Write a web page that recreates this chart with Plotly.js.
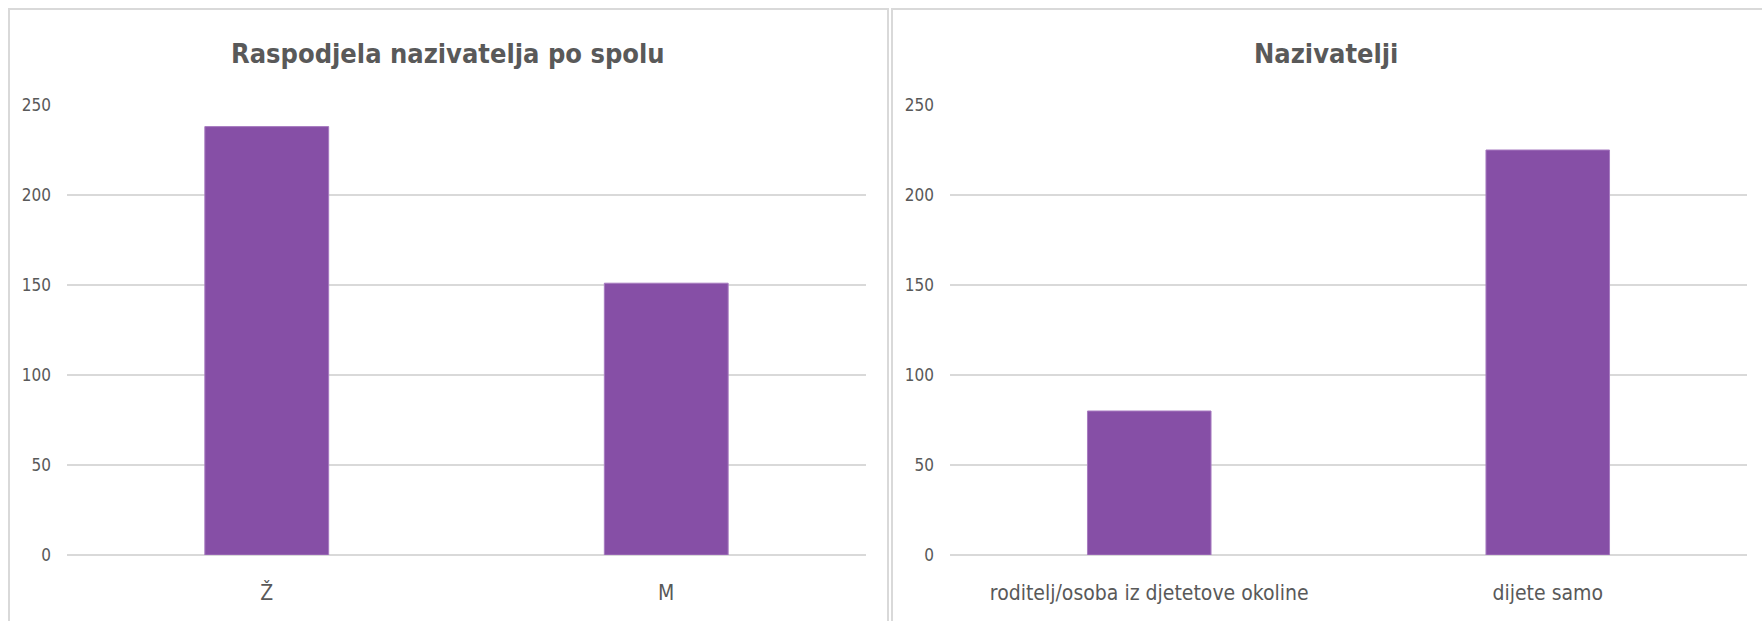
<!DOCTYPE html>
<html>
<head>
<meta charset="utf-8">
<script src="https://cdn.plot.ly/plotly-3.0.1.min.js"></script>
<style>html,body{margin:0;padding:0;background:#fff;}#chart{width:1762px;height:621px;}</style>
</head>
<body>
<div id="chart"></div>
<script>
// Chart data
var genderCategories = ["Ž", "M"];
var genderValues = [238, 151];
var callerCategories = ["roditelj/osoba iz djetetove okoline", "dijete samo"];
var callerValues = [80, 225];
var yTickValues = [0, 50, 100, 150, 200, 250];
var titleLeft = "Raspodjela nazivatelja po spolu";
var titleRight = "Nazivatelji";

var W = 1762, H = 621;
var FONT = '"Liberation Sans Narrow", "DejaVu Sans Condensed", "Liberation Sans", sans-serif';
var GREY = '#595959';
var GRID = '#d9d9d9';
var BAR = '#864fa6';

function px(x){ return x / W; }
function py(y){ return 1 - y / H; }

var traces = [
  {type:'bar', x: genderCategories, y: genderValues, xaxis:'x', yaxis:'y',
   marker:{color:BAR, line:{color:'#a77bc0', width:1}}, hoverinfo:'x+y'},
  {type:'bar', x: callerCategories, y: callerValues, xaxis:'x2', yaxis:'y2',
   marker:{color:BAR, line:{color:'#a77bc0', width:1}}, hoverinfo:'x+y'}
];

function yAxis(anchor){
  return {
    domain:[py(555), py(105)], range:[0,250], anchor:anchor,
    tickvals: yTickValues, showgrid:true, gridcolor:GRID, gridwidth:2,
    zeroline:true, zerolinecolor:GRID, zerolinewidth:2.5,
    showline:false, ticks:'', ticklabelstandoff:15,
    tickfont:{family:FONT, size:17, color:GREY}, fixedrange:true
  };
}
function xAxis(d0, d1, anchor){
  return {
    domain:[px(d0), px(d1)], anchor:anchor, type:'category',
    showgrid:false, zeroline:false, showline:false, ticks:'',
    ticklabelstandoff:23,
    tickfont:{family:FONT, size:21, color:GREY}, fixedrange:true
  };
}

var layout = {
  width:W, height:H, margin:{l:0,r:0,t:0,b:0},
  paper_bgcolor:'#fff', plot_bgcolor:'rgba(0,0,0,0)',
  showlegend:false, bargap:0.69,
  xaxis: xAxis(67, 866, 'y'),
  yaxis: yAxis('x'),
  xaxis2: xAxis(950, 1747, 'y2'),
  yaxis2: yAxis('x2'),
  shapes:[
    {type:'rect', xref:'paper', yref:'paper', x0:px(9), x1:px(888), y0:py(660), y1:py(9),
     line:{color:GRID, width:2}, fillcolor:'rgba(0,0,0,0)', layer:'below'},
    {type:'rect', xref:'paper', yref:'paper', x0:px(892), x1:px(1800), y0:py(660), y1:py(9),
     line:{color:GRID, width:2}, fillcolor:'rgba(0,0,0,0)', layer:'below'}
  ],
  annotations:[
    {text:'<b>'+titleLeft+'</b>', xref:'paper', yref:'paper', x:px(448), y:py(54),
     xanchor:'center', yanchor:'middle', showarrow:false,
     font:{family:FONT, size:27, color:GREY}},
    {text:'<b>'+titleRight+'</b>', xref:'paper', yref:'paper', x:px(1326), y:py(54),
     xanchor:'center', yanchor:'middle', showarrow:false,
     font:{family:FONT, size:27, color:GREY}}
  ]
};

Plotly.newPlot('chart', traces, layout, {staticPlot:true, displayModeBar:false});
</script>
</body>
</html>
